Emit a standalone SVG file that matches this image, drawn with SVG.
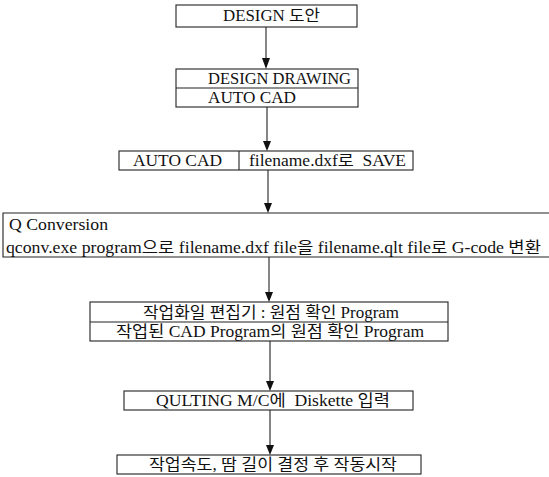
<svg xmlns="http://www.w3.org/2000/svg" width="549" height="477" viewBox="0 0 549 477">
<style>
.b{fill:#fff;stroke:#222;stroke-width:1.1}
.l{stroke:#222;stroke-width:1.1;fill:none}
text{font-family:"Liberation Serif","Noto Sans CJK KR",serif;font-size:16px;fill:#111}
</style>
<rect width="549" height="477" fill="#fff"/>
<g id="connectors">
<line class="l" x1="266" y1="27" x2="266" y2="60"/>
<line class="l" x1="267" y1="107" x2="267" y2="143"/>
<line class="l" x1="268" y1="170" x2="268" y2="205"/>
<line class="l" x1="269" y1="257" x2="269" y2="294"/>
<line class="l" x1="270" y1="341" x2="270" y2="383"/>
<line class="l" x1="270" y1="410" x2="270" y2="447"/>
<path d="M262,58 L270,58 L266,69 Z M263,141 L271,141 L267,151 Z M264,203 L272,203 L268,213 Z M265,292 L273,292 L269,302 Z M266,381 L274,381 L270,391 Z M266,445 L274,445 L270,455 Z" fill="#111"/>
</g>
<g id="node1">
<rect class="b" x="176" y="5" width="181" height="22"/>
<text x="223" y="21" textLength="97" lengthAdjust="spacingAndGlyphs">DESIGN 도안</text>
</g>
<g id="node2">
<rect class="b" x="176" y="69" width="182" height="38"/>
<line class="l" x1="176" y1="88" x2="358" y2="88"/>
<text x="208" y="84" textLength="143" lengthAdjust="spacingAndGlyphs">DESIGN DRAWING</text>
<text x="208" y="103" textLength="88" lengthAdjust="spacingAndGlyphs">AUTO CAD</text>
</g>
<g id="node3">
<rect class="b" x="119" y="151" width="294" height="19"/>
<line class="l" x1="239" y1="151" x2="239" y2="170"/>
<text x="133" y="166" textLength="89" lengthAdjust="spacingAndGlyphs">AUTO CAD</text>
<text x="249" y="166" textLength="157" lengthAdjust="spacingAndGlyphs" xml:space="preserve">filename.dxf로  SAVE</text>
</g>
<g id="node4">
<path class="l" d="M549,213 L3,213 L3,257 L549,257"/>
<text x="9" y="230" textLength="99" lengthAdjust="spacingAndGlyphs">Q Conversion</text>
<text x="6" y="253" textLength="535" lengthAdjust="spacingAndGlyphs">qconv.exe program으로 filename.dxf file을 filename.qlt file로 G-code 변환</text>
</g>
<g id="node5">
<rect class="b" x="90" y="302" width="358" height="39"/>
<line class="l" x1="90" y1="322" x2="448" y2="322"/>
<text x="143" y="318" textLength="256" lengthAdjust="spacingAndGlyphs">작업화일 편집기 : 원점 확인 Program</text>
<text x="116" y="337" textLength="308" lengthAdjust="spacingAndGlyphs">작업된 CAD Program의 원점 확인 Program</text>
</g>
<g id="node6">
<rect class="b" x="124" y="391" width="289" height="19"/>
<text x="156" y="406" textLength="234" lengthAdjust="spacingAndGlyphs" xml:space="preserve">QULTING M/C에  Diskette 입력</text>
</g>
<g id="node7">
<rect class="b" x="117" y="455" width="304" height="19"/>
<text x="149" y="470" textLength="248" lengthAdjust="spacingAndGlyphs">작업속도, 땀 길이 결정 후 작동시작</text>
</g>
</svg>
